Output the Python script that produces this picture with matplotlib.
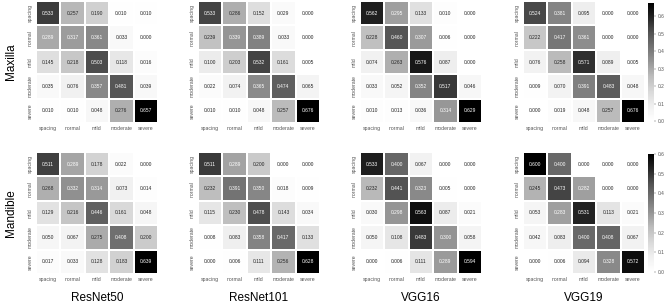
import numpy as np
import matplotlib
matplotlib.use("Agg")
import matplotlib.pyplot as plt
import seaborn as sns

plt.rcParams['font.family'] = ['Liberation Sans', 'DejaVu Sans']

classes = ['spacing', 'normal', 'mild', 'moderate', 'severe']
models = ['ResNet50', 'ResNet101', 'VGG16', 'VGG19']
jaws = ['Maxilla', 'Mandible']

# normalised confusion matrices, rows = true class
maxilla_resnet50 = [[0.533, 0.257, 0.190, 0.010, 0.010],
                    [0.289, 0.317, 0.361, 0.033, 0.000],
                    [0.145, 0.218, 0.503, 0.118, 0.016],
                    [0.035, 0.076, 0.357, 0.481, 0.039],
                    [0.010, 0.010, 0.048, 0.276, 0.657]]
maxilla_resnet101 = [[0.533, 0.286, 0.152, 0.029, 0.000],
                     [0.239, 0.339, 0.389, 0.033, 0.000],
                     [0.100, 0.203, 0.532, 0.161, 0.005],
                     [0.022, 0.074, 0.365, 0.474, 0.065],
                     [0.010, 0.010, 0.048, 0.257, 0.676]]
maxilla_vgg16 = [[0.562, 0.295, 0.133, 0.010, 0.000],
                 [0.228, 0.460, 0.307, 0.006, 0.000],
                 [0.074, 0.263, 0.576, 0.087, 0.000],
                 [0.033, 0.052, 0.352, 0.517, 0.046],
                 [0.010, 0.013, 0.036, 0.314, 0.629]]
maxilla_vgg19 = [[0.524, 0.381, 0.095, 0.000, 0.000],
                 [0.222, 0.417, 0.361, 0.000, 0.000],
                 [0.076, 0.258, 0.571, 0.089, 0.005],
                 [0.009, 0.070, 0.391, 0.483, 0.048],
                 [0.000, 0.019, 0.048, 0.257, 0.676]]

mandible_resnet50 = [[0.511, 0.289, 0.178, 0.022, 0.000],
                     [0.268, 0.332, 0.314, 0.073, 0.014],
                     [0.129, 0.216, 0.446, 0.161, 0.048],
                     [0.050, 0.067, 0.275, 0.408, 0.200],
                     [0.017, 0.033, 0.128, 0.183, 0.639]]
mandible_resnet101 = [[0.511, 0.289, 0.200, 0.000, 0.000],
                      [0.232, 0.391, 0.350, 0.018, 0.009],
                      [0.115, 0.230, 0.478, 0.143, 0.034],
                      [0.008, 0.083, 0.358, 0.417, 0.133],
                      [0.000, 0.006, 0.111, 0.256, 0.628]]
mandible_vgg16 = [[0.533, 0.400, 0.067, 0.000, 0.000],
                  [0.232, 0.441, 0.323, 0.005, 0.000],
                  [0.030, 0.298, 0.563, 0.087, 0.021],
                  [0.050, 0.108, 0.483, 0.300, 0.058],
                  [0.000, 0.006, 0.111, 0.289, 0.594]]
mandible_vgg19 = [[0.600, 0.400, 0.000, 0.000, 0.000],
                  [0.245, 0.473, 0.282, 0.000, 0.000],
                  [0.053, 0.283, 0.531, 0.113, 0.021],
                  [0.042, 0.083, 0.400, 0.408, 0.067],
                  [0.000, 0.006, 0.094, 0.328, 0.572]]

matrices = [[maxilla_resnet50, maxilla_resnet101, maxilla_vgg16, maxilla_vgg19],
            [mandible_resnet50, mandible_resnet101, mandible_vgg16, mandible_vgg19]]

W, H = 668, 308
fig = plt.figure(figsize=(W / 100, H / 100), dpi=100)

size = 122
lefts = [36, 198, 360, 523]
tops = [1, 152]
grey = '#555555'

for r in range(2):
    for c in range(4):
        top = tops[r]
        ax = fig.add_axes([lefts[c] / W, 1 - (top + size) / H, size / W, size / H])
        cax = None
        if c == 3:
            cax = fig.add_axes([648 / W, 1 - (top + 120) / H, 6 / W, 118 / H])
        sns.heatmap(np.array(matrices[r][c]), ax=ax, cmap='Greys', annot=True,
                    fmt='.3f', annot_kws={'size': 3.5},
                    xticklabels=classes, yticklabels=classes,
                    cbar=(c == 3), cbar_ax=cax,
                    linewidths=0.3, linecolor='white')
        ax.tick_params(length=0, labelsize=3.7, colors=grey, pad=2.5)
        plt.setp(ax.get_yticklabels(), rotation=90, va='center')
        plt.setp(ax.get_xticklabels(), rotation=0)
        if cax is not None:
            cax.tick_params(labelsize=3.5, length=1.5, width=0.3, colors=grey, pad=1)
            for s in cax.spines.values():
                s.set_visible(False)

for r, jaw in enumerate(jaws):
    fig.text(11 / W, 1 - (tops[r] + 61) / H, jaw, rotation=90,
             fontsize=8.5, ha='center', va='center')

for c, m in enumerate(models):
    fig.text((lefts[c] + 61) / W, 1 - 298 / H, m, fontsize=8.5,
             ha='center', va='center')

fig.savefig('out.png', dpi=100)
